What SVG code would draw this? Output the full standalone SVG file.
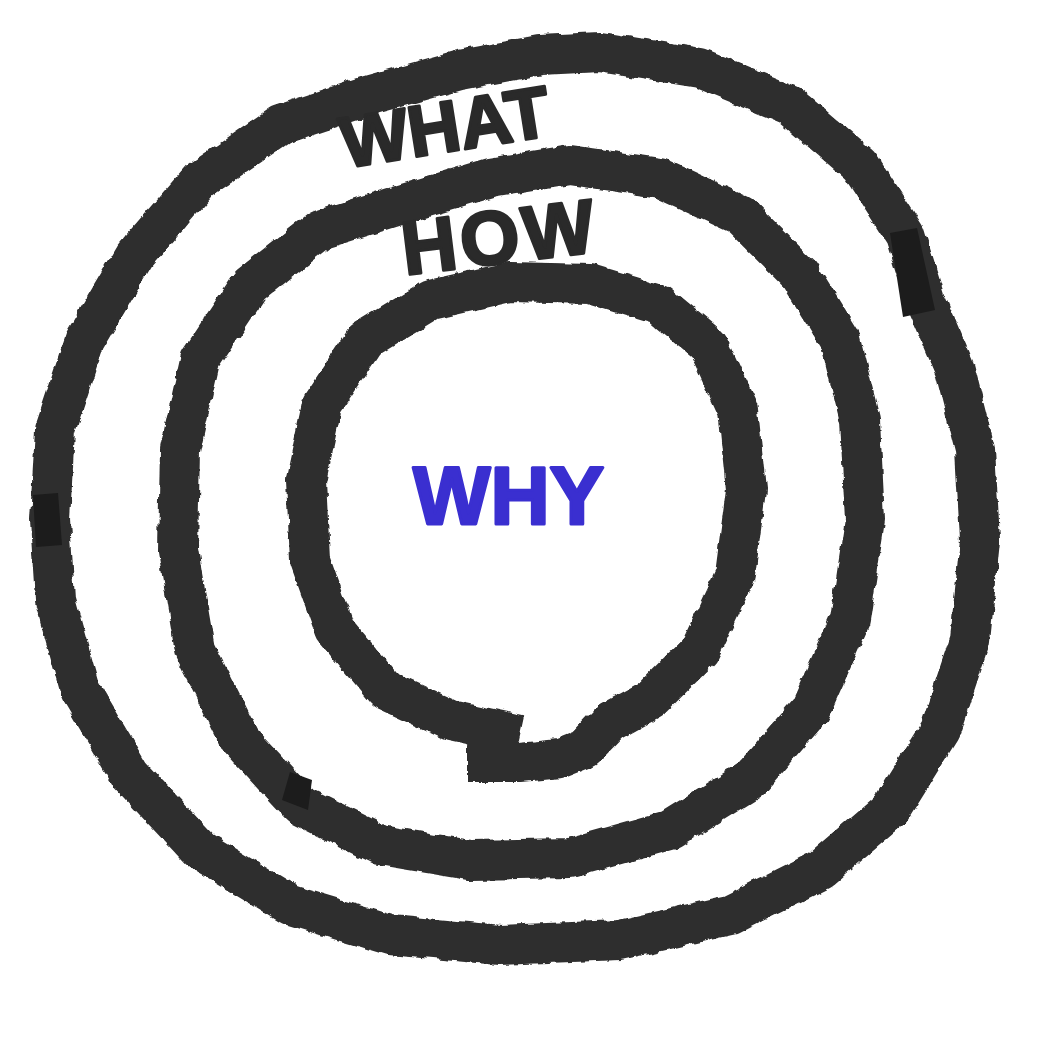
<svg xmlns="http://www.w3.org/2000/svg" width="1040" height="1040" viewBox="0 0 1040 1040">
<defs>
<filter id="rough" x="-5%" y="-5%" width="110%" height="110%">
<feTurbulence type="fractalNoise" baseFrequency="0.08" numOctaves="3" seed="3" result="n"/>
<feDisplacementMap in="SourceGraphic" in2="n" scale="6" xChannelSelector="R" yChannelSelector="G"/>
</filter>
<style>
.ring{fill:none;stroke:#2f2f2f;stroke-width:40;stroke-linejoin:round;stroke-linecap:butt;filter:url(#rough)}
.tape{fill:#1c1c1c}
.lbl{font-family:"Liberation Sans",Arial,sans-serif;font-weight:bold;fill:#2a2a2a;stroke:#2a2a2a;stroke-width:3;stroke-linejoin:round}
.why{font-family:"Liberation Sans",Arial,sans-serif;font-weight:bold;fill:#3a2fd0;stroke:#3a2fd0;stroke-width:3;stroke-linejoin:round}
</style>
</defs>
<rect width="1040" height="1040" fill="#ffffff"/>
<g id="rings">
<path id="outer-ring" class="ring" d="M600,52 L700,68 L790,105 L860,165 L905,235 L925,300 L955,370 L975,450 L980,540 L970,640 L940,730 L890,810 L820,870 L730,915 L620,940 L500,945 L390,935 L290,905 L200,850 L130,775 L80,690 L55,600 L50,520 L55,430 L85,340 L135,255 L200,180 L280,125 L370,95 L460,70 L540,55 Z"/>
<path id="middle-ring" class="ring" d="M570,165 L660,178 L740,215 L800,275 L840,340 L860,420 L865,520 L850,620 L810,710 L750,780 L670,830 L570,858 L470,860 L380,845 L300,805 L240,740 L195,650 L178,550 L180,450 L200,360 L250,285 L320,230 L400,205 L490,178 Z"/>
<path id="inner-ring" class="ring" d="M468,762 L520,762 L560,758 L585,748 L610,722 L650,700 L700,650 L735,575 L746,490 L738,410 L708,345 L660,305 L590,284 L510,282 L430,300 L365,340 L322,405 L306,480 L310,560 L335,630 L385,690 L450,720 L520,735"/>
</g>
<g id="tapes">
<polygon class="tape" points="890,233 917,228 935,310 903,317"/>
<polygon class="tape" points="33,495 58,493 62,545 36,547"/>
<polygon class="tape" points="290,772 312,780 308,810 282,800"/>
</g>
<g id="label-what"><text class="lbl" x="345" y="168" font-size="72" transform="rotate(-9 345 168)">WHAT</text></g>
<g id="label-how"><text class="lbl" x="405" y="275" font-size="76" transform="rotate(-7 405 275)" letter-spacing="4">HOW</text></g>
<g id="label-why"><text class="why" x="413" y="524" font-size="82">WHY</text></g>
</svg>
